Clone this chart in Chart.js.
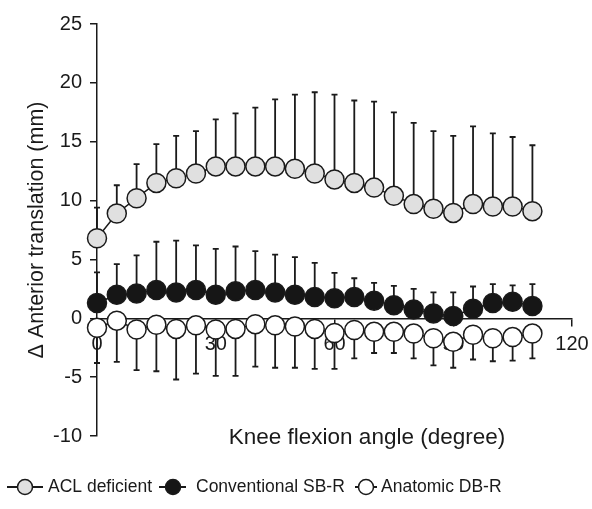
<!DOCTYPE html>
<html>
<head>
<meta charset="utf-8">
<script src="https://cdn.jsdelivr.net/npm/chart.js@4/dist/chart.umd.min.js"></script>
<style>
  html, body { margin: 0; padding: 0; background: #fff; }
  #wrap { width: 592px; height: 509px; position: relative; }
</style>
</head>
<body>
<div id="wrap"><canvas id="kneeChart"></canvas></div>
<script>
// knee flexion angles (degree)
const angles = [0, 5, 10, 15, 20, 25, 30, 35, 40, 45, 50, 55, 60, 65, 70, 75, 80, 85, 90, 95, 100, 105, 110];

// mean anterior translation (mm) and SD
const aclMean = [6.8, 8.9, 10.2, 11.5, 11.9, 12.3, 12.9, 12.9, 12.9, 12.9, 12.7, 12.3, 11.8, 11.5, 11.1, 10.4, 9.7, 9.3, 8.95, 9.7, 9.5, 9.5, 9.1];
const aclSd = [2.6, 2.4, 2.9, 3.3, 3.6, 3.6, 4.0, 4.5, 5.0, 5.7, 6.3, 6.9, 7.2, 7.0, 7.3, 7.1, 6.9, 6.6, 6.55, 6.6, 6.2, 5.9, 5.6];

const convMean = [1.3, 2.0, 2.1, 2.4, 2.2, 2.4, 2.0, 2.3, 2.4, 2.2, 2.0, 1.8, 1.7, 1.8, 1.5, 1.1, 0.75, 0.4, 0.2, 0.8, 1.3, 1.4, 1.05];
const convSd = [2.6, 2.6, 3.25, 4.1, 4.4, 3.8, 3.9, 3.8, 3.3, 3.2, 3.2, 2.9, 2.15, 1.6, 1.5, 1.65, 1.75, 1.8, 2.0, 1.9, 1.6, 1.4, 1.85];

const anatMean = [-0.8, -0.2, -0.95, -0.55, -0.9, -0.6, -0.95, -0.9, -0.5, -0.6, -0.7, -0.9, -1.25, -1.0, -1.15, -1.15, -1.3, -1.7, -2.0, -1.4, -1.7, -1.6, -1.3];
const anatSd = [3.0, 3.5, 3.45, 3.95, 4.3, 4.1, 3.95, 4.0, 3.6, 3.6, 3.5, 3.4, 3.05, 2.4, 1.8, 1.8, 2.1, 2.3, 2.2, 2.1, 1.95, 2.0, 2.1];

const seriesNames = ["ACL deficient", "Conventional SB-R", "Anatomic DB-R"];
const xTitle = "Knee flexion angle (degree)";
const yTitle = "\u0394 Anterior translation (mm)";

const INK = "#1a1a1a";
const FONT = "'Liberation Sans', Arial, Helvetica, sans-serif";
Chart.defaults.font.family = FONT;
Chart.defaults.color = INK;

function toPoints(means) {
  return angles.map((a, i) => ({ x: a, y: means[i] }));
}

// error bars, one direction only (like the original figure)
const errorBars = {
  id: "errorBars",
  beforeDatasetsDraw(chart) {
    const { ctx, scales: { x, y } } = chart;
    ctx.save();
    ctx.strokeStyle = INK;
    ctx.lineWidth = 1.8;
    chart.data.datasets.forEach((ds) => {
      ds.data.forEach((p, j) => {
        const px = x.getPixelForValue(p.x);
        const y0 = y.getPixelForValue(p.y);
        const y1 = y.getPixelForValue(p.y + ds.errDir * ds.errors[j]);
        ctx.beginPath();
        ctx.moveTo(px, y0);
        ctx.lineTo(px, y1);
        ctx.moveTo(px - 3, y1);
        ctx.lineTo(px + 3, y1);
        ctx.stroke();
      });
    });
    ctx.restore();
  },
};

// x title + legend below the plot
const extraText = {
  id: "extraText",
  afterDraw(chart) {
    const ctx = chart.ctx;
    ctx.save();
    ctx.fillStyle = INK;
    ctx.font = "22.5px " + FONT;
    ctx.textAlign = "center";
    ctx.textBaseline = "middle";
    ctx.fillText(xTitle, 367, 438);

    // legend: line - marker - label
    const items = [
      { x1: 7, x2: 43, cx: 25, tx: 48 },
      { x1: 159, x2: 186, cx: 173, tx: 196 },
      { x1: 355, x2: 377, cx: 366, tx: 381 },
    ];
    const ly = 487;
    ctx.font = "17.5px " + FONT;
    ctx.textAlign = "left";
    items.forEach((it, i) => {
      const ds = chart.data.datasets[i];
      ctx.strokeStyle = INK;
      ctx.lineWidth = 2;
      ctx.beginPath();
      ctx.moveTo(it.x1, ly);
      ctx.lineTo(it.x2, ly);
      ctx.stroke();
      ctx.beginPath();
      ctx.arc(it.cx, ly, 7.5, 0, Math.PI * 2);
      ctx.fillStyle = ds.pointBackgroundColor;
      ctx.fill();
      ctx.lineWidth = 1.5;
      ctx.stroke();
      ctx.fillStyle = INK;
      ctx.fillText(seriesNames[i], it.tx, ly);
    });
    ctx.restore();
  },
};

function makeSet(i, means, sd, fill, dir) {
  return {
    label: seriesNames[i],
    data: toPoints(means),
    errors: sd,
    errDir: dir,
    borderColor: INK,
    borderWidth: 1.5,
    pointRadius: 9.5,
    pointHoverRadius: 9.5,
    pointBackgroundColor: fill,
    pointBorderColor: INK,
    pointBorderWidth: 1.5,
    tension: 0,
    clip: false,
  };
}

const ctx = document.getElementById("kneeChart").getContext("2d");
const chart = new Chart(ctx, {
  type: "line",
  data: {
    datasets: [
      makeSet(0, aclMean, aclSd, "#e0e0e0", 1),
      makeSet(1, convMean, convSd, "#161616", 1),
      makeSet(2, anatMean, anatSd, "#ffffff", -1),
    ],
  },
  options: {
    responsive: true,
    maintainAspectRatio: false,
    animation: false,
    layout: { padding: { left: 0, right: 20, top: 24, bottom: 73 } },
    scales: {
      x: {
        type: "linear",
        position: { y: 0 },
        min: 0,
        max: 120,
        afterFit: (s) => { s.paddingLeft = 0; s.paddingRight = 0; },
        ticks: { stepSize: 30, padding: 7, font: { size: 20 }, color: INK, maxRotation: 0 },
        grid: { drawOnChartArea: false, drawTicks: true, tickLength: 7, color: INK, lineWidth: 1.5 },
        border: { display: true, color: INK, width: 1.5 },
      },
      y: {
        type: "linear",
        position: "left",
        min: -10,
        max: 25,
        afterFit: (s) => { s.width = 97; },
        ticks: { stepSize: 5, padding: 8, font: { size: 20 }, color: INK },
        grid: { drawOnChartArea: false, drawTicks: true, tickLength: 7, color: INK, lineWidth: 1.5 },
        border: { display: true, color: INK, width: 1.5 },
        title: { display: true, text: yTitle, font: { size: 21.5 }, color: INK, padding: { top: 24, bottom: 0 } },
      },
    },
    plugins: {
      legend: { display: false },
      tooltip: { enabled: false },
    },
  },
  plugins: [errorBars, extraText],
});
</script>
</body>
</html>
